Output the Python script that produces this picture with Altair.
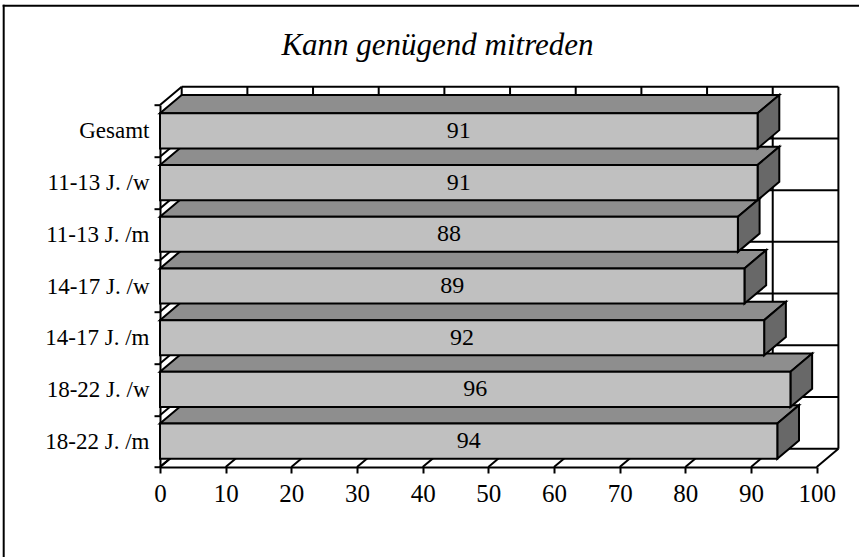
import json

import altair as alt
import pandas as pd

# ---- data -------------------------------------------------------------
CATEGORIES = [
    "Gesamt",
    "11-13 J. /w",
    "11-13 J. /m",
    "14-17 J. /w",
    "14-17 J. /m",
    "18-22 J. /w",
    "18-22 J. /m",
]
VALUES = [91, 91, 88, 89, 92, 96, 94]
X_TICKS = [0, 10, 20, 30, 40, 50, 60, 70, 80, 90, 100]
TITLE = "Kann genügend mitreden"

# ---- geometry of the pseudo-3D box ----------------------------------------
FRONT_W = 656.7          # pixel width of the front plane (0..100)
FRONT_H = 362.0          # pixel height of the front plane (all categories)
DEPTH_PX_X = 21.7        # depth shift to the right, pixels
DEPTH_PX_Y = 18.3        # depth shift upwards, pixels
PLOT_W = FRONT_W + DEPTH_PX_X
PLOT_H = FRONT_H + DEPTH_PX_Y
X_MAX = 100
N = len(CATEGORIES)
BAND_PX = FRONT_H / N
DX = DEPTH_PX_X * X_MAX / FRONT_W     # depth in x data units
DY = DEPTH_PX_Y / BAND_PX             # depth in band units
HALF = 0.34                           # half bar thickness in band units

SERIF = "Liberation Serif"
FRONT = "#C0C0C0"
TOP = "#8E8E8E"
SIDE = "#686868"

X_SCALE = alt.Scale(domain=[0, X_MAX], range=[0, FRONT_W], nice=False, zero=False)
Y_SCALE = alt.Scale(domain=[0, N], range=[PLOT_H, DEPTH_PX_Y], nice=False, zero=False)

# slot 0 is the bottom row
slots = [N - 1 - i for i in range(N)]
bars = pd.DataFrame({"cat": CATEGORIES, "value": VALUES, "slot": slots})
bars["y0"] = bars["slot"] + 0.5 - HALF
bars["y1"] = bars["slot"] + 0.5 + HALF
bars["yc"] = bars["slot"] + 0.5
bars["mid"] = bars["value"] / 2

# top faces and side faces: parallelograms drawn as areas (x independent, lo..hi)
top_rows, side_rows = [], []
for c, v, y0, y1 in zip(bars["cat"], bars["value"], bars["y0"], bars["y1"]):
    top_rows += [
        {"cat": c, "px": 0, "lo": y1, "hi": y1},
        {"cat": c, "px": DX, "lo": y1, "hi": y1 + DY},
        {"cat": c, "px": v, "lo": y1, "hi": y1 + DY},
        {"cat": c, "px": v + DX, "lo": y1 + DY, "hi": y1 + DY},
    ]
    side_rows += [
        {"cat": c, "px": v, "lo": y0, "hi": y1},
        {"cat": c, "px": v + DX, "lo": y0 + DY, "hi": y1 + DY},
    ]
top_df = pd.DataFrame(top_rows)
side_df = pd.DataFrame(side_rows)

# wall and floor lines
lines = []
for t in X_TICKS:
    lines.append({"x0": t + DX, "x1": t + DX, "y0": DY, "y1": N + DY})   # back wall verticals
    lines.append({"x0": t, "x1": t + DX, "y0": 0, "y1": DY})             # floor diagonals
for j in range(N + 1):
    lines.append({"x0": DX, "x1": X_MAX + DX, "y0": j + DY, "y1": j + DY})  # back wall horizontals
    lines.append({"x0": 0, "x1": DX, "y0": j, "y1": j + DY})                # left wall diagonals
lines_df = pd.DataFrame(lines)

slot_labels = CATEGORIES[::-1] + [""]
label_expr = json.dumps(slot_labels) + "[datum.value]"

AXIS_COMMON = dict(
    title=None,
    grid=False,
    domainColor="black",
    domainWidth=2,
    tickColor="black",
    tickWidth=2,
    tickSize=6,
    labelFont=SERIF,
    labelColor="black",
    labelFlush=False,
    labelOverlap=False,
)
X_AXIS = alt.Axis(values=X_TICKS, labelFontSize=25, labelPadding=8, **AXIS_COMMON)
Y_AXIS = alt.Axis(
    values=list(range(N + 1)),
    labelExpr=label_expr,
    labelOffset=-BAND_PX / 2,
    labelFontSize=23,
    labelPadding=5,
    labelBaseline="middle",
    **AXIS_COMMON,
)


def xq(field):
    return alt.X(field, type="quantitative", scale=X_SCALE, axis=X_AXIS)


def yq(field, **kw):
    return alt.Y(field, type="quantitative", scale=Y_SCALE, axis=Y_AXIS, **kw)


# frame around the whole chart (left and top edges; the others fall off the page)
frame_df = pd.DataFrame({"k": [0]})
frame_top = alt.Chart(frame_df).mark_rule(color="black", strokeWidth=2).encode(
    x=alt.value(2.7 - 160), x2=alt.value(720), y=alt.value(5.7 - 86.7)
)
frame_left = alt.Chart(frame_df).mark_rule(color="black", strokeWidth=2).encode(
    x=alt.value(3.7 - 160), y=alt.value(4.7 - 86.7), y2=alt.value(500)
)

walls = alt.Chart(lines_df).mark_rule(color="black", strokeWidth=2).encode(
    x=xq("x0"), x2="x1", y=yq("y0"), y2="y1"
)

tops = alt.Chart(top_df).mark_area(
    orient="vertical", fill=TOP, stroke="black", strokeWidth=2, strokeJoin="miter"
).encode(x=xq("px"), y=yq("lo", stack=False), y2="hi", detail="cat:N")

sides = alt.Chart(side_df).mark_area(
    orient="vertical", fill=SIDE, stroke="black", strokeWidth=2, strokeJoin="miter"
).encode(x=xq("px"), y=yq("lo", stack=False), y2="hi", detail="cat:N")

fronts = alt.Chart(bars).mark_rect(fill=FRONT, stroke="black", strokeWidth=2).encode(
    x=xq("value"), x2=alt.value(0), y=yq("y0"), y2="y1"
)

values_txt = alt.Chart(bars).mark_text(
    font=SERIF, fontSize=24, color="black", baseline="middle", align="center"
).encode(x=xq("mid"), y=yq("yc"), text="value:Q")

title_txt = alt.Chart(pd.DataFrame({"t": [TITLE]})).mark_text(
    font=SERIF, fontSize=31, fontStyle="italic", color="black",
    align="center", baseline="alphabetic",
).encode(x=alt.value(437.5 - 160), y=alt.value(55 - 86.7), text="t:N")

chart = alt.layer(
    frame_top, frame_left, walls, tops, sides, fronts, values_txt, title_txt
).properties(
    width=PLOT_W,
    height=PLOT_H,
    autosize=alt.AutoSizeParams(type="none"),
    padding={"left": 160, "top": 86.7, "right": 859 - 160 - PLOT_W, "bottom": 557 - 86.7 - PLOT_H},
    background="white",
).configure_view(strokeWidth=0)

chart.save("out.html", embed_options={"renderer": "svg", "actions": False})
